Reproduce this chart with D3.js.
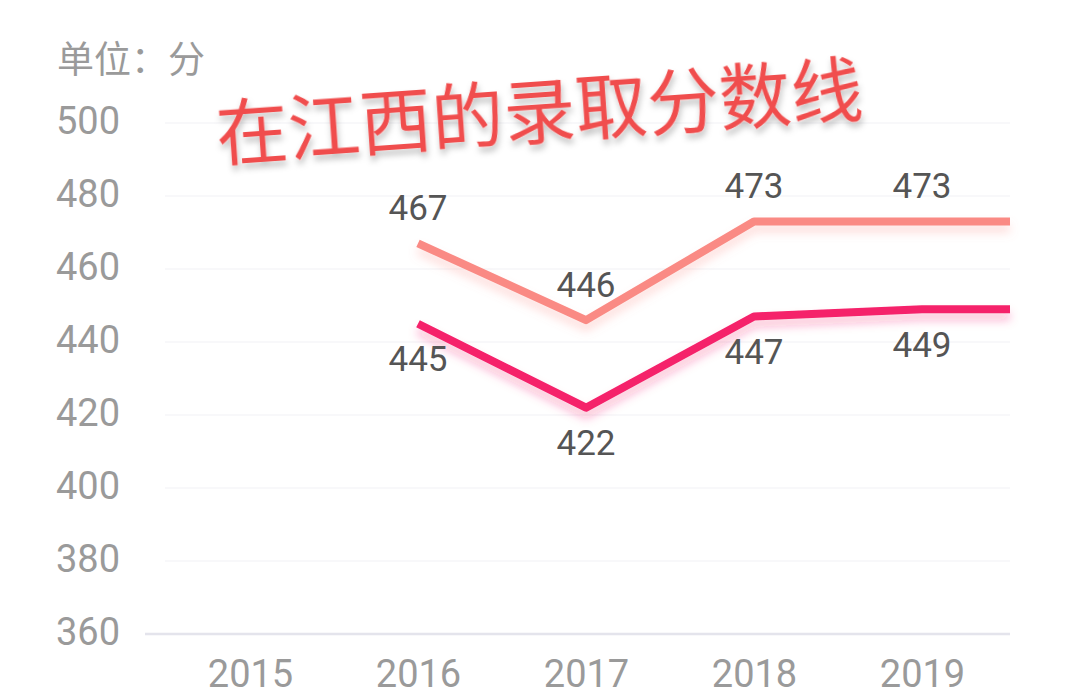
<!DOCTYPE html>
<html>
<head>
<meta charset="utf-8">
<script src="https://cdn.jsdelivr.net/npm/d3@7"></script>
<style>
  html, body { margin: 0; padding: 0; background: #fff; }
  svg { display: block; }
</style>
</head>
<body>
<div id="graph"></div>
<script>
var width = 1069
var height = 695

// data
var years = ["2015", "2016", "2017", "2018", "2019"]
var highYears = ["2016", "2017", "2018", "2019"]
var highScores = [467, 446, 473, 473]
var lowYears = ["2016", "2017", "2018", "2019"]
var lowScores = [445, 422, 447, 449]
var yTicks = [360, 380, 400, 420, 440, 460, 480, 500]

var plotLeft = 165
var plotRight = 1010
var baseY = 634

var x = d3.scalePoint()
    .domain(years)
    .range([250, 922])

var y = d3.scaleLinear()
    .domain([360, 500])
    .range([baseY, 123])

var svg = d3.select("#graph").append("svg")
    .attr("width", width)
    .attr("height", height)

var defs = svg.append("defs")

// soft glow under each line
function glow(id, color) {
    var f = defs.append("filter").attr("id", id)
        .attr("x", "-10%").attr("y", "-50%").attr("width", "120%").attr("height", "200%")
    f.append("feDropShadow")
        .attr("dx", 0).attr("dy", 7)
        .attr("stdDeviation", 5)
        .attr("flood-color", color)
        .attr("flood-opacity", 0.3)
}
glow("glowHigh", "#fa8a84")
glow("glowLow", "#f5206a")

var tshadow = defs.append("filter").attr("id", "titleShadow")
    .attr("x", "-5%").attr("y", "-30%").attr("width", "110%").attr("height", "160%")
tshadow.append("feDropShadow")
    .attr("dx", 1).attr("dy", 5)
    .attr("stdDeviation", 3)
    .attr("flood-color", "#000")
    .attr("flood-opacity", 0.25)

// grid lines
svg.append("g").selectAll("line")
    .data(yTicks.filter(function (d) { return d > 360 }))
    .enter().append("line")
    .attr("x1", plotLeft).attr("x2", plotRight)
    .attr("y1", function (d) { return y(d) })
    .attr("y2", function (d) { return y(d) })
    .attr("stroke", "#f6f6f8")
    .attr("stroke-width", 1.5)

// base line
svg.append("line")
    .attr("x1", 145).attr("x2", plotRight)
    .attr("y1", y(360)).attr("y2", y(360))
    .attr("stroke", "#e4e4ec")
    .attr("stroke-width", 2.5)

// y axis labels
var yAxis = d3.axisLeft(y).tickValues(yTicks).tickSize(0).tickPadding(0)
var gy = svg.append("g").attr("transform", "translate(120,-3)").call(yAxis)
gy.select(".domain").remove()
gy.selectAll("text")
    .attr("fill", "#9a9a9a")
    .attr("font-family", "Roboto, sans-serif")
    .attr("font-size", 38)
    .attr("dy", "0.36em")

// x axis labels
var xAxis = d3.axisBottom(x).tickSize(0).tickPadding(0)
var gx = svg.append("g").attr("transform", "translate(0,673)").call(xAxis)
gx.select(".domain").remove()
gx.selectAll("text")
    .attr("fill", "#9a9a9a")
    .attr("font-family", "Roboto, sans-serif")
    .attr("font-size", 38)
    .attr("dy", "0.36em")

// unit
svg.append("text")
    .attr("x", 57).attr("y", 73)
    .attr("fill", "#9a9a9a")
    .attr("font-family", "'Noto Sans CJK SC', sans-serif")
    .attr("font-size", 37)
    .text("单位：分")

// lines, carried flat to the plot edge after the last year
function linePoints(cats, vals) {
    var pts = cats.map(function (c, i) { return [x(c), y(vals[i])] })
    pts.push([plotRight, y(vals[vals.length - 1])])
    return pts
}
var line = d3.line()

svg.append("path")
    .attr("d", line(linePoints(highYears, highScores)))
    .attr("fill", "none")
    .attr("stroke", "#fa8a84")
    .attr("stroke-width", 8)
    .attr("stroke-linejoin", "round")
    .attr("stroke-linecap", "butt")
    .attr("filter", "url(#glowHigh)")

svg.append("path")
    .attr("d", line(linePoints(lowYears, lowScores)))
    .attr("fill", "none")
    .attr("stroke", "#f5206a")
    .attr("stroke-width", 8)
    .attr("stroke-linejoin", "round")
    .attr("stroke-linecap", "butt")
    .attr("filter", "url(#glowLow)")

// value labels: upper series above, lower series below
svg.append("g").selectAll("text")
    .data(highScores)
    .enter().append("text")
    .attr("x", function (d, i) { return x(highYears[i]) })
    .attr("y", function (d) { return y(d) - 36 })
    .attr("dy", "0.36em")
    .attr("text-anchor", "middle")
    .attr("fill", "#555")
    .attr("font-family", "Roboto, sans-serif")
    .attr("font-size", 35)
    .text(function (d) { return d })

svg.append("g").selectAll("text")
    .data(lowScores)
    .enter().append("text")
    .attr("x", function (d, i) { return x(lowYears[i]) })
    .attr("y", function (d) { return y(d) + 35 })
    .attr("dy", "0.36em")
    .attr("text-anchor", "middle")
    .attr("fill", "#555")
    .attr("font-family", "Roboto, sans-serif")
    .attr("font-size", 35)
    .text(function (d) { return d })

// tilted title
svg.append("text")
    .attr("transform", "translate(218,160) rotate(-4)")
    .attr("fill", "#f04d4d")
    .attr("font-family", "'Noto Sans CJK SC', sans-serif")
    .attr("font-size", 72)
    .attr("filter", "url(#titleShadow)")
    .text("在江西的录取分数线")
</script>
</body>
</html>
